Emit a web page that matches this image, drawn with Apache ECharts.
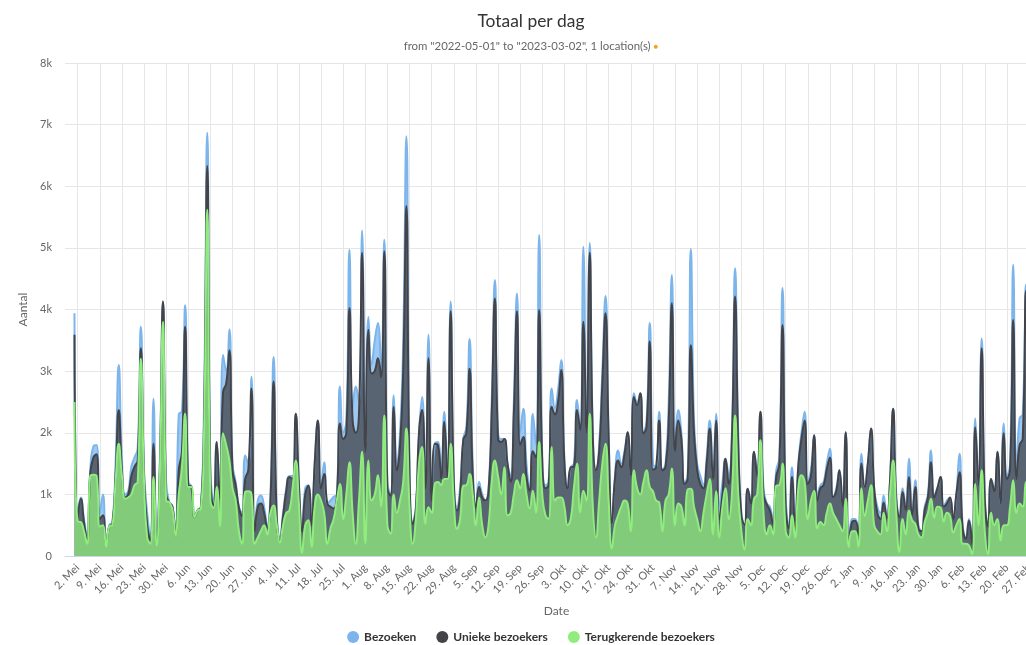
<!DOCTYPE html>
<html>
<head>
<meta charset="utf-8">
<script src="https://cdn.jsdelivr.net/npm/echarts@6/dist/echarts.min.js"></script>
<style>
  html, body { margin: 0; padding: 0; background: #fff; overflow: hidden; }
  #chart { width: 1062px; height: 645px; }
</style>
</head>
<body>
<div id="chart"></div>
<script>
// Daily totals, one value per day from 2022-05-01 to 2023-03-02
const startDate = [2022, 4, 1];
const monthNames = ['Jan', 'Feb', 'Mrt', 'Apr', 'Mei', 'Jun', 'Jul', 'Aug', 'Sep', 'Okt', 'Nov', 'Dec'];

const visits = [
  3940, 700, 950, 600, 300, 1400, 1780, 1800, 700, 1000,
  200, 500, 550, 1500, 3100, 1600, 1000, 1050, 1450, 1600,
  1750, 3720, 1400, 700, 300, 2550, 250, 1500, 4130, 1200,
  870, 800, 350, 2300, 2350, 4070, 1200, 1130, 650, 750,
  800, 2500, 6870, 1400, 900, 1850, 900, 3260, 3000, 3680,
  1500, 1200, 800, 700, 1630, 1500, 2910, 450, 900, 980,
  800, 500, 1000, 3230, 700, 300, 700, 1100, 1300, 1300,
  2310, 1200, 450, 1100, 1150, 500, 1500, 2200, 1100, 1520,
  850, 900, 960, 1000, 2750, 2000, 2200, 4970, 2400, 2750,
  2500, 5280, 1800, 3880, 3100, 3500, 3780, 3000, 5130, 1200,
  1000, 2610, 1500, 2000, 3500, 6810, 1500, 550, 800, 2000,
  2580, 1200, 3590, 950, 1820, 1850, 1250, 2340, 1300, 4130,
  1300, 800, 1100, 1900, 2100, 3520, 1500, 800, 1200, 1000,
  900, 1100, 2500, 4480, 2000, 1900, 1900, 1500, 1300, 2500,
  4260, 2000, 2390, 1500, 1100, 2310, 1800, 5210, 1600, 1150,
  1200, 2720, 2400, 2700, 3180, 1600, 1090, 1440, 1500, 2530,
  2040, 5020, 2000, 5080, 2000, 1390, 1800, 3000, 4220, 2000,
  520, 1300, 1710, 1500, 1700, 2010, 1300, 2640, 2500, 2640,
  2000, 2200, 3780, 1500, 1440, 2340, 1400, 1500, 2500, 4560,
  1800, 2370, 2000, 1200, 1300, 4980, 2200, 1500, 1300, 1150,
  1600, 2200, 1300, 2310, 800, 1200, 1580, 1300, 2000, 4670,
  2000, 700, 500, 1090, 900, 1690, 1400, 2340, 1100, 860,
  800, 600, 1380, 1600, 4350, 1000, 500, 1440, 500, 1500,
  2000, 2340, 1200, 1400, 1960, 1000, 1150, 1200, 1500, 1740,
  950, 1100, 1390, 800, 2010, 200, 600, 600, 400, 1660,
  1120, 1500, 2070, 1100, 800, 700, 980, 600, 1200, 2390,
  1000, 650, 1100, 800, 1580, 650, 1230, 500, 400, 800,
  1000, 1710, 1000, 1100, 1280, 800, 900, 950, 600, 1000,
  1660, 500, 300, 600, 300, 2230, 1150, 3530, 1000, 500,
  1250, 1100, 1690, 850, 2150, 1300, 1500, 4730, 1400, 2230,
  2300, 4400, 1500, 1200, 2500, 1800
];

const uniqueVisitors = [
  3590, 620, 930, 550, 250, 1350, 1600, 1650, 600, 660,
  180, 480, 520, 1300, 2370, 1400, 950, 1000, 1300, 1450,
  1550, 3370, 1300, 500, 250, 1820, 200, 1400, 4130, 1000,
  870, 800, 330, 1400, 1700, 3720, 1150, 1120, 630, 740,
  780, 2200, 6330, 1200, 800, 1850, 900, 2660, 2800, 3340,
  1400, 1150, 790, 650, 1250, 1400, 2720, 400, 800, 850,
  700, 450, 900, 2830, 600, 250, 650, 1050, 1280, 1250,
  2310, 1150, 400, 1000, 1140, 500, 1500, 2200, 1090, 1330,
  850, 800, 770, 950, 2150, 1900, 2000, 4020, 2200, 2000,
  2300, 4920, 1690, 3670, 2960, 3000, 3210, 2900, 4940, 1100,
  980, 2420, 1390, 1800, 3000, 5680, 1300, 520, 750, 2000,
  2370, 1100, 3210, 900, 1820, 1800, 1250, 2180, 1250, 3970,
  1200, 740, 1000, 1880, 2000, 3040, 1300, 790, 1120, 950,
  900, 1050, 2300, 4180, 1900, 1850, 1900, 1500, 1200, 2300,
  3970, 1800, 1930, 1300, 1060, 1700, 1600, 3990, 1520, 1100,
  1150, 2420, 2300, 2500, 3020, 1500, 1090, 1440, 1450, 2370,
  2040, 3800, 2000, 4920, 1900, 1390, 1700, 2800, 3940, 1900,
  520, 1250, 1550, 1440, 1650, 2010, 1300, 2580, 2450, 2640,
  1990, 2100, 3480, 1400, 1440, 2200, 1390, 1450, 2200, 4100,
  1700, 2200, 1900, 1170, 1250, 3420, 2000, 1400, 1170, 1100,
  1500, 2070, 1250, 2200, 600, 1000, 1580, 1170, 1900, 4210,
  1800, 650, 500, 1090, 850, 1690, 1300, 2340, 1000, 840,
  740, 520, 1280, 1500, 3750, 800, 450, 1280, 450, 1450,
  1900, 2200, 1170, 1300, 1960, 900, 1100, 1150, 1400, 1600,
  950, 1050, 1390, 800, 2010, 170, 550, 570, 350, 1500,
  1120, 1500, 2070, 1100, 700, 600, 870, 600, 1200, 2390,
  900, 630, 1040, 750, 1280, 650, 1120, 450, 400, 750,
  950, 1520, 950, 1100, 1280, 800, 850, 950, 600, 1000,
  1360, 450, 280, 570, 200, 2090, 1150, 3370, 900, 480,
  1250, 1050, 1690, 850, 1990, 1250, 1400, 3830, 1250, 1800,
  1900, 4300, 1300, 1000, 2200, 1500
];

const returningVisitors = [
  2500, 560, 550, 400, 200, 1300, 1320, 1300, 480, 500,
  150, 480, 500, 1200, 1820, 1300, 930, 950, 1000, 1150,
  1200, 3200, 1200, 300, 200, 1280, 170, 1300, 3800, 900,
  870, 750, 330, 1000, 1440, 2310, 1120, 1120, 630, 740,
  760, 2000, 5620, 900, 780, 1120, 480, 1990, 1800, 1550,
  1100, 900, 410, 200, 1040, 1050, 1000, 200, 300, 410,
  500, 350, 700, 820, 500, 220, 500, 700, 740, 1100,
  1550, 850, 50, 500, 580, 150, 800, 1000, 900, 700,
  200, 450, 600, 900, 1170, 600, 1000, 1520, 700, 200,
  900, 1690, 200, 1550, 900, 1000, 1310, 800, 2280, 500,
  360, 1000, 700, 900, 1200, 2070, 800, 200, 600, 1500,
  1770, 520, 790, 700, 1170, 1200, 1150, 1250, 1250, 1820,
  900, 440, 600, 1140, 1150, 1330, 1000, 500, 950, 500,
  300, 500, 1200, 1550, 1300, 1000, 1440, 660, 700, 1000,
  1230, 1100, 1330, 1000, 770, 1060, 700, 1850, 1000, 660,
  600, 1770, 900, 950, 950, 800, 500, 600, 1100, 1500,
  710, 1060, 900, 2310, 800, 300, 900, 1500, 1820, 900,
  120, 500, 660, 800, 900, 850, 400, 1390, 1100, 1000,
  1200, 1390, 1120, 1050, 900, 870, 400, 900, 1000, 1420,
  500, 850, 800, 500, 1080, 1090, 800, 600, 400, 700,
  1000, 1250, 350, 1050, 300, 800, 1100, 600, 1000, 2280,
  1000, 400, 100, 600, 500, 930, 1000, 1880, 700, 350,
  500, 350, 1140, 1150, 1500, 400, 300, 660, 300, 1100,
  1310, 1200, 600, 900, 1060, 450, 550, 500, 700, 850,
  700, 600, 500, 400, 930, 150, 400, 400, 150, 1100,
  650, 900, 1150, 500, 400, 350, 700, 400, 1000, 1550,
  700, 60, 600, 350, 740, 580, 520, 350, 300, 550,
  700, 930, 620, 800, 790, 560, 700, 650, 380, 500,
  600, 200, 200, 170, 30, 1170, 500, 1390, 400, 30,
  700, 500, 600, 250, 500, 500, 800, 1230, 700, 850,
  800, 1200, 800, 700, 1000, 900
];

const yTicks = [0, 1000, 2000, 3000, 4000, 5000, 6000, 7000, 8000];
const seriesNames = ['Bezoeken', 'Unieke bezoekers', 'Terugkerende bezoekers'];
const seriesColors = ['#7cb5ec', '#434348', '#90ed7d'];

// A few empty days on each side keep the first and last point off the plot edges
const PAD = 3;
const dayMs = 86400000;
const t0 = Date.UTC(startDate[0], startDate[1], startDate[2]);
const dayCount = visits.length;
const categories = [];
for (let i = -PAD; i < dayCount + PAD; i++) {
  const d = new Date(t0 + i * dayMs);
  categories.push(d.getUTCDate() + '. ' + monthNames[d.getUTCMonth()]);
}
const padded = arr => Array(PAD).fill(null).concat(arr);
// weekly ticks on Mondays (2022-05-02 is day 1)
const isMonday = idx => ((idx - PAD - 1) % 7 + 7) % 7 === 0;

const font = 'Lato, "Open Sans", sans-serif';
const chart = echarts.init(document.getElementById('chart'), null, { renderer: 'canvas' });

chart.setOption({
  animation: false,
  backgroundColor: '#ffffff',
  textStyle: { fontFamily: font },
  title: {
    left: 'center',
    top: 8,
    text: 'Totaal per dag',
    itemGap: 11,
    textStyle: { fontFamily: font, fontSize: 17.4, fontWeight: 'normal', color: '#333333' },
    subtext: 'from "2022-05-01" to "2023-03-02", 1 location(s) {dot|●}',
    subtextStyle: {
      fontFamily: font, fontSize: 11.4, color: '#666666',
      rich: { dot: { color: '#f7a01d', fontSize: 8, padding: [0, 0, 1, 0] } }
    }
  },
  legend: {
    top: 626,
    left: 'center',
    icon: 'circle',
    itemWidth: 12,
    itemHeight: 12,
    itemGap: 20,
    textStyle: { fontFamily: font, fontSize: 12, fontWeight: 'bold', color: '#333333' },
    data: seriesNames
  },
  grid: { left: 65, right: 14, top: 63, bottom: 89, containLabel: false },
  xAxis: {
    type: 'category',
    data: categories,
    boundaryGap: false,
    name: 'Date',
    nameLocation: 'middle',
    nameGap: 49,
    nameTextStyle: { fontFamily: font, fontSize: 12, color: '#666666' },
    axisLine: { show: true, lineStyle: { color: '#ccd6eb', width: 1 } },
    axisTick: { show: false },
    axisLabel: {
      interval: idx => isMonday(idx),
      rotate: 45,
      margin: 10,
      fontFamily: font,
      fontSize: 11,
      color: '#666666'
    },
    splitLine: {
      show: true,
      interval: idx => isMonday(idx),
      lineStyle: { color: '#e6e6e6', width: 1 }
    }
  },
  yAxis: {
    type: 'value',
    min: yTicks[0],
    max: yTicks[yTicks.length - 1],
    interval: yTicks[1] - yTicks[0],
    name: 'Aantal',
    nameLocation: 'middle',
    nameRotate: 90,
    nameGap: 34,
    nameTextStyle: { fontFamily: font, fontSize: 12, color: '#666666' },
    axisLine: { show: false },
    axisTick: { show: false },
    axisLabel: {
      margin: 13,
      fontFamily: font,
      fontSize: 11,
      color: '#666666',
      formatter: v => (v === 0 ? '0' : v / 1000 + 'k')
    },
    splitLine: { show: true, lineStyle: { color: '#e6e6e6', width: 1 } }
  },
  series: [visits, uniqueVisitors, returningVisitors].map((values, i) => ({
    name: seriesNames[i],
    type: 'line',
    data: padded(values),
    smooth: true,
    symbol: 'none',
    color: seriesColors[i],
    lineStyle: { width: 2, color: seriesColors[i] },
    areaStyle: { color: seriesColors[i], opacity: 0.75 },
    emphasis: { disabled: true }
  }))
});
</script>
</body>
</html>
